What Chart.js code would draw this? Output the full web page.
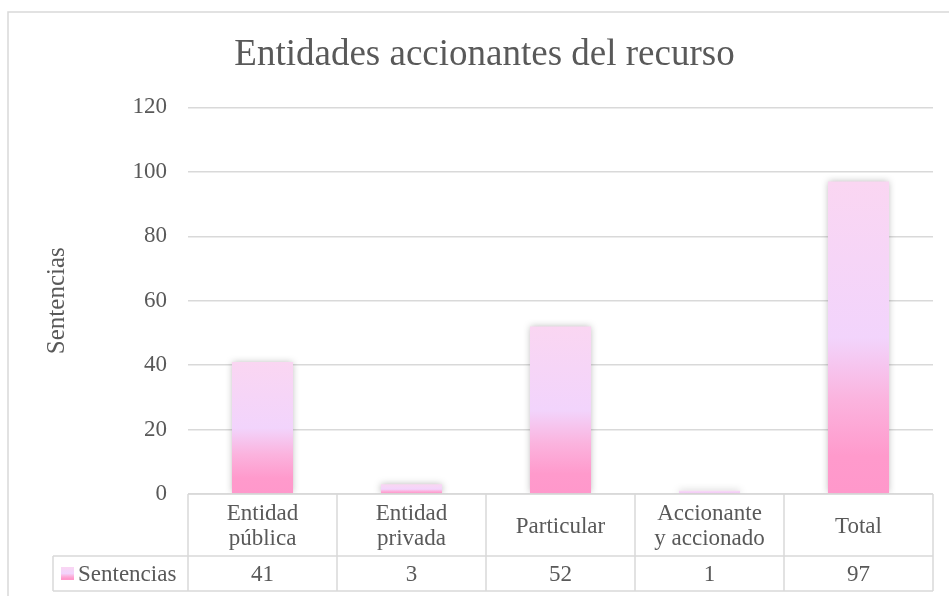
<!DOCTYPE html>
<html>
<head>
<meta charset="utf-8">
<script src="https://cdn.jsdelivr.net/npm/chart.js@4.4.1/dist/chart.umd.min.js"></script>
<style>
  html, body { margin: 0; padding: 0; background: #fff; }
  #wrap { width: 949px; height: 596px; position: relative; }
</style>
</head>
<body>
<div id="wrap"><canvas id="chart-area"></canvas></div>
<script>
var categories = [ ['Entidad', 'pública'], ['Entidad', 'privada'], ['Particular'], ['Accionante', 'y accionado'], ['Total'] ];
var sentencias = [ 41, 3, 52, 1, 97 ];
var seriesName = 'Sentencias';
var yMax = 120;
var yStep = 20;

var textColor = '#595959';
var lineColor = '#d9d9d9';
var serif = '"Liberation Serif", "Times New Roman", serif';

function barGradient(ctx, top, bottom) {
	var g = ctx.createLinearGradient(0, top, 0, bottom);
	g.addColorStop(0, '#fad6f2');
	g.addColorStop(0.5, '#f2d4fc');
	g.addColorStop(0.7, '#fbb3de');
	g.addColorStop(0.88, '#ff9acc');
	g.addColorStop(1, '#ff98cb');
	return g;
}

// frame, bar shadow and the data table under the plot
var tablePlugin = {
	id : 'dataTable',
	beforeDraw : function(chart) {
		var ctx = chart.ctx;
		ctx.save();
		ctx.strokeStyle = lineColor;
		ctx.lineWidth = 1.5;
		ctx.strokeRect(8, 12, 2000, 2000);
		ctx.restore();
	},
	beforeDatasetsDraw : function(chart) {
		chart.ctx.save();
		chart.ctx.shadowColor = 'rgba(0,0,0,0.28)';
		chart.ctx.shadowBlur = 7;
	},
	afterDatasetsDraw : function(chart) {
		chart.ctx.restore();
	},
	afterDraw : function(chart) {
		var ctx = chart.ctx;
		var area = chart.chartArea;
		var x = chart.scales.x;
		var half = (x.getPixelForValue(1) - x.getPixelForValue(0)) / 2;
		var top = area.bottom;
		var mid = top + 62;
		var bot = mid + 35;
		var keyLeft = 53;

		ctx.save();
		ctx.strokeStyle = lineColor;
		ctx.lineWidth = 1.5;
		ctx.beginPath();
		ctx.moveTo(area.left, top); ctx.lineTo(area.right, top);
		ctx.moveTo(keyLeft, mid); ctx.lineTo(area.right, mid);
		ctx.moveTo(keyLeft, bot); ctx.lineTo(area.right, bot);
		ctx.moveTo(keyLeft, mid); ctx.lineTo(keyLeft, bot);
		ctx.moveTo(area.left, top); ctx.lineTo(area.left, bot);
		for (var i = 0; i < categories.length; i++) {
			var r = x.getPixelForValue(i) + half;
			ctx.moveTo(r, top); ctx.lineTo(r, bot);
		}
		ctx.stroke();

		ctx.fillStyle = textColor;
		ctx.font = '23px ' + serif;
		ctx.textAlign = 'center';
		ctx.textBaseline = 'alphabetic';
		for (var j = 0; j < categories.length; j++) {
			var cx = x.getPixelForValue(j);
			var lines = categories[j];
			var lh = 24.5;
			var base = (top + mid) / 2 + 7.5 - (lines.length - 1) * lh / 2;
			for (var k = 0; k < lines.length; k++) {
				ctx.fillText(lines[k], cx, base + k * lh);
			}
			ctx.fillText(String(sentencias[j]), cx, mid + 25);
		}

		// legend key
		ctx.fillStyle = barGradient(ctx, mid + 11, mid + 24);
		ctx.fillRect(61, mid + 11, 13, 13);
		ctx.fillStyle = textColor;
		ctx.textAlign = 'left';
		ctx.fillText(seriesName, 78, mid + 25);
		ctx.restore();
	}
};

var myBar = new Chart(document.getElementById('chart-area'), {
	type : 'bar',
	data : {
		labels : categories,
		datasets : [ {
			label : seriesName,
			data : sentencias,
			backgroundColor : function(c) {
				var chart = c.chart;
				if (!chart.chartArea || c.raw === undefined) return '#ff99cc';
				var y = chart.scales.y;
				return barGradient(chart.ctx, y.getPixelForValue(c.raw), y.getPixelForValue(0));
			},
			borderWidth : 0,
			barPercentage : 0.41,
			categoryPercentage : 1
		} ]
	},
	options : {
		responsive : true,
		maintainAspectRatio : false,
		animation : false,
		layout : {
			padding : { left : 36, right : 16, top : 11, bottom : 102 }
		},
		plugins : {
			legend : { display : false },
			tooltip : { enabled : false },
			title : {
				display : true,
				text : 'Entidades accionantes del recurso',
				color : textColor,
				font : { family : serif, size : 37, weight : 'normal' },
				padding : { top : 22, bottom : 30 }
			}
		},
		scales : {
			x : {
				display : false
			},
			y : {
				min : 0,
				max : yMax,
				afterFit : function(scale) { scale.width = 152; },
				border : { display : false },
				grid : { color : lineColor, lineWidth : 1.5, drawTicks : false },
				ticks : {
					stepSize : yStep,
					padding : 21,
					color : textColor,
					font : { family : serif, size : 23 }
				},
				title : {
					display : true,
					text : seriesName,
					color : textColor,
					font : { family : serif, size : 25 },
					padding : { top : 6, bottom : 0 }
				}
			}
		}
	},
	plugins : [ tablePlugin ]
});
</script>
</body>
</html>
